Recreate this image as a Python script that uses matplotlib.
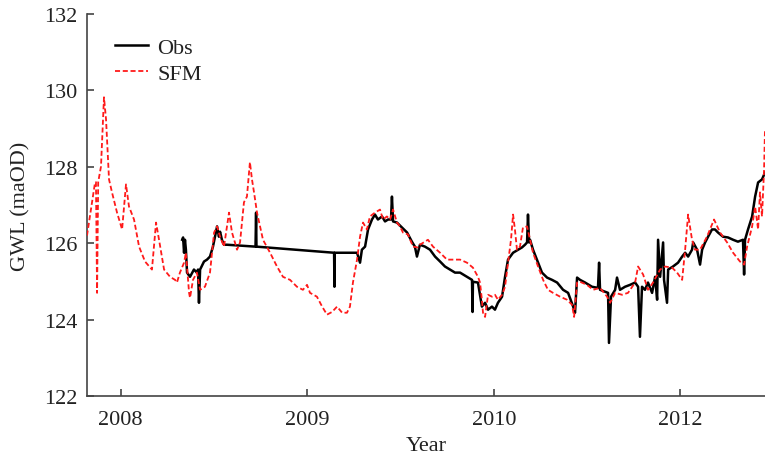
import matplotlib
matplotlib.use("Agg")
import matplotlib.pyplot as plt

plt.rcParams['font.family'] = ['Liberation Serif', 'DejaVu Serif']

# ---- data ----
sfm_year = [2007.820, 2007.847, 2007.863, 2007.868, 2007.874, 2007.880, 2007.895, 2007.911, 2007.922,
            2007.938, 2007.954, 2007.981, 2008.008, 2008.029, 2008.045, 2008.072, 2008.099, 2008.131,
            2008.168, 2008.190, 2008.206, 2008.233, 2008.265, 2008.292, 2008.302, 2008.318, 2008.340,
            2008.350, 2008.367, 2008.372, 2008.388, 2008.409, 2008.426, 2008.452, 2008.479, 2008.501,
            2008.517, 2008.533, 2008.554, 2008.581, 2008.597, 2008.624, 2008.640, 2008.661, 2008.677,
            2008.693, 2008.704, 2008.715, 2008.731, 2008.763, 2008.801, 2008.838, 2008.870, 2008.908,
            2008.945, 2008.977, 2008.999, 2009.015, 2009.052, 2009.080, 2009.106, 2009.133, 2009.160,
            2009.187, 2009.213, 2009.229, 2009.245, 2009.267, 2009.283, 2009.299, 2009.320, 2009.336,
            2009.363, 2009.390, 2009.406, 2009.427, 2009.444, 2009.460, 2009.481, 2009.497, 2009.513,
            2009.540, 2009.567, 2009.594, 2009.604, 2009.647, 2009.674, 2009.712, 2009.749, 2009.781,
            2009.819, 2009.856, 2009.888, 2009.915, 2009.926, 2009.936, 2009.942, 2009.953, 2009.969,
            2009.990, 2010.006, 2010.022, 2010.044, 2010.060, 2010.076, 2010.092, 2010.103, 2010.113,
            2010.124, 2010.140, 2010.156, 2010.178, 2010.194, 2010.210, 2010.237, 2010.264, 2010.290,
            2010.317, 2010.355, 2010.392, 2010.419, 2010.430, 2010.446, 2010.462, 2010.499, 2010.532,
            2010.569, 2010.607, 2010.623, 2010.650, 2010.687, 2010.719, 2010.757, 2010.773, 2010.800,
            2010.826, 2010.853, 2010.891, 2010.917, 2010.955, 2010.982, 2011.009, 2011.025, 2011.041,
            2011.062, 2011.078, 2011.105, 2011.142, 2011.180, 2011.212, 2011.250, 2011.282, 2011.319,
            2011.341, 2011.357, 2011.384, 2011.400, 2011.416, 2011.426, 2011.437, 2011.448, 2011.453]
sfm_gwl = [126.20, 127.07, 127.59, 127.60, 124.70, 127.60, 128.01, 129.82, 129.24,
           127.67, 127.33, 126.80, 126.36, 127.54, 126.96, 126.62, 125.91, 125.52,
           125.31, 126.54, 126.09, 125.31, 125.12, 125.04, 124.97, 125.23, 125.49,
           125.75, 124.70, 124.57, 125.04, 125.23, 124.78, 124.86, 125.23, 126.28,
           126.44, 126.17, 125.91, 126.80, 126.28, 125.83, 126.02, 127.07, 127.22,
           128.12, 127.67, 127.33, 126.80, 126.09, 125.75, 125.39, 125.12, 125.04,
           124.86, 124.78, 124.91, 124.70, 124.60, 124.34, 124.13, 124.20, 124.34,
           124.18, 124.18, 124.34, 124.97, 125.57, 126.17, 126.54, 126.36, 126.70,
           126.80, 126.88, 126.62, 126.70, 126.62, 126.88, 126.54, 126.44, 126.28,
           126.23, 125.91, 125.89, 125.96, 126.09, 125.91, 125.75, 125.57, 125.57,
           125.57, 125.49, 125.36, 125.12, 124.97, 124.52, 124.18, 124.07, 124.65,
           124.60, 124.65, 124.52, 124.65, 124.86, 125.49, 126.09, 126.75, 126.36,
           125.83, 125.91, 126.41, 126.44, 126.09, 125.75, 125.39, 125.04, 124.78,
           124.70, 124.60, 124.52, 124.39, 124.07, 124.97, 124.99, 124.91, 124.78,
           124.83, 124.60, 124.44, 124.70, 124.65, 124.70, 124.97, 125.39, 125.18,
           124.78, 124.97, 125.31, 125.39, 125.36, 125.23, 125.04, 125.83, 126.75,
           126.09, 125.83, 125.83, 126.17, 126.62, 126.28, 126.02, 125.75, 125.52,
           125.44, 125.91, 126.44, 126.96, 126.36, 127.33, 126.70, 127.93, 128.98]

obs_year = [2008.330, 2008.335, 2008.340, 2008.345, 2008.350, 2008.356, 2008.372, 2008.393, 2008.409,
            2008.415, 2008.420, 2008.426, 2008.447, 2008.463, 2008.479, 2008.495, 2008.506, 2008.517,
            2008.527, 2008.533, 2008.543, 2008.554, 2008.570, 2008.723, 2008.726, 2008.728, 2009.144,
            2009.146, 2009.147, 2009.267, 2009.283, 2009.293, 2009.310, 2009.326, 2009.347, 2009.363,
            2009.379, 2009.401, 2009.417, 2009.433, 2009.449, 2009.454, 2009.460, 2009.481, 2009.508,
            2009.535, 2009.561, 2009.577, 2009.588, 2009.604, 2009.631, 2009.658, 2009.685, 2009.712,
            2009.738, 2009.765, 2009.792, 2009.819, 2009.856, 2009.883, 2009.886, 2009.888, 2009.915,
            2009.936, 2009.953, 2009.969, 2009.990, 2010.006, 2010.022, 2010.044, 2010.060, 2010.076,
            2010.103, 2010.130, 2010.151, 2010.167, 2010.178, 2010.183, 2010.189, 2010.194, 2010.210,
            2010.231, 2010.258, 2010.285, 2010.312, 2010.339, 2010.371, 2010.398, 2010.425, 2010.435,
            2010.446, 2010.462, 2010.489, 2010.526, 2010.558, 2010.564, 2010.569, 2010.596, 2010.612,
            2010.617, 2010.628, 2010.650, 2010.660, 2010.676, 2010.703, 2010.730, 2010.757, 2010.773,
            2010.783, 2010.794, 2010.810, 2010.826, 2010.848, 2010.864, 2010.875, 2010.880, 2010.891,
            2010.907, 2010.912, 2010.928, 2010.934, 2010.960, 2010.987, 2011.009, 2011.025, 2011.041,
            2011.062, 2011.068, 2011.089, 2011.105, 2011.116, 2011.132, 2011.148, 2011.169, 2011.185,
            2011.201, 2011.228, 2011.255, 2011.282, 2011.308, 2011.335, 2011.341, 2011.346, 2011.362,
            2011.384, 2011.400, 2011.416, 2011.437, 2011.453]
obs_gwl = [126.09, 126.15, 125.75, 126.09, 125.83, 125.23, 125.12, 125.31, 125.23,
           125.31, 124.44, 125.31, 125.52, 125.57, 125.65, 125.91, 126.17, 126.44,
           126.17, 126.30, 126.09, 125.96, 125.96, 125.91, 126.80, 125.91, 125.75,
           124.86, 125.75, 125.75, 125.49, 125.83, 125.91, 126.36, 126.62, 126.75,
           126.62, 126.70, 126.57, 126.62, 126.62, 127.22, 126.57, 126.54, 126.41,
           126.28, 126.04, 125.91, 125.65, 125.96, 125.91, 125.83, 125.65, 125.52,
           125.39, 125.31, 125.23, 125.23, 125.12, 125.04, 124.20, 124.99, 124.97,
           124.34, 124.44, 124.26, 124.34, 124.26, 124.44, 124.60, 125.12, 125.57,
           125.75, 125.83, 125.89, 125.96, 126.02, 126.75, 126.02, 126.09, 125.83,
           125.57, 125.23, 125.10, 125.04, 124.97, 124.78, 124.70, 124.34, 124.18,
           125.10, 125.04, 124.97, 124.86, 124.83, 125.49, 124.78, 124.73, 124.70,
           123.39, 124.60, 124.78, 125.10, 124.78, 124.86, 124.91, 124.97, 124.86,
           123.55, 124.86, 124.78, 124.97, 124.70, 125.12, 124.52, 126.09, 125.12,
           126.02, 125.04, 124.44, 125.31, 125.39, 125.49, 125.65, 125.75, 125.65,
           125.83, 126.02, 125.83, 125.44, 125.83, 126.02, 126.17, 126.36, 126.36,
           126.28, 126.17, 126.15, 126.09, 126.04, 126.09, 125.18, 126.09, 126.36,
           126.70, 127.22, 127.59, 127.67, 127.85]

tick_pos = [2008, 2009, 2010, 2011]
tick_labels = ["2008", "2009", "2010", "2012"]
y_ticks = [122, 124, 126, 128, 130, 132]

# ---- figure ----
fig = plt.figure(figsize=(7.65, 4.56), dpi=100)
ax = fig.add_axes([87 / 765, 1 - 397 / 456, 1 - 87 / 765, (397 - 15) / 456])

ax.plot(obs_year, obs_gwl, color='black', lw=1.8, label='Obs', zorder=3)
ax.plot(sfm_year, sfm_gwl, color='#ff1a1a', lw=1.3, dashes=(2.8, 1.5), label='SFM', zorder=4)

ax.set_xlim(2007.820, 2011.453)
ax.set_ylim(122, 132)
ax.set_xticks(tick_pos)
ax.set_xticklabels(tick_labels)
ax.set_yticks(y_ticks)

for s in ['top', 'right']:
    ax.spines[s].set_visible(False)
for s in ['left', 'bottom']:
    ax.spines[s].set_color('#444444')
    ax.spines[s].set_linewidth(1.2)

ax.tick_params(direction='in', length=5, width=1.2, color='#444444',
               labelsize=16, labelcolor='#222222')
ax.tick_params(axis='x', pad=10)
ax.tick_params(axis='y', pad=7)

ax.set_xlabel('Year', fontsize=16, color='#222222', labelpad=5)
ax.set_ylabel('GWL (maOD)', fontsize=16, color='#222222', labelpad=10)

leg = ax.legend(loc='upper left', bbox_to_anchor=(0.041, 0.939), frameon=False,
                fontsize=16, handlelength=1.5, handletextpad=0.4, labelspacing=0.25,
                borderpad=0, borderaxespad=0)
for t in leg.get_texts():
    t.set_color('#222222')

fig.savefig('out.png', dpi=100)
